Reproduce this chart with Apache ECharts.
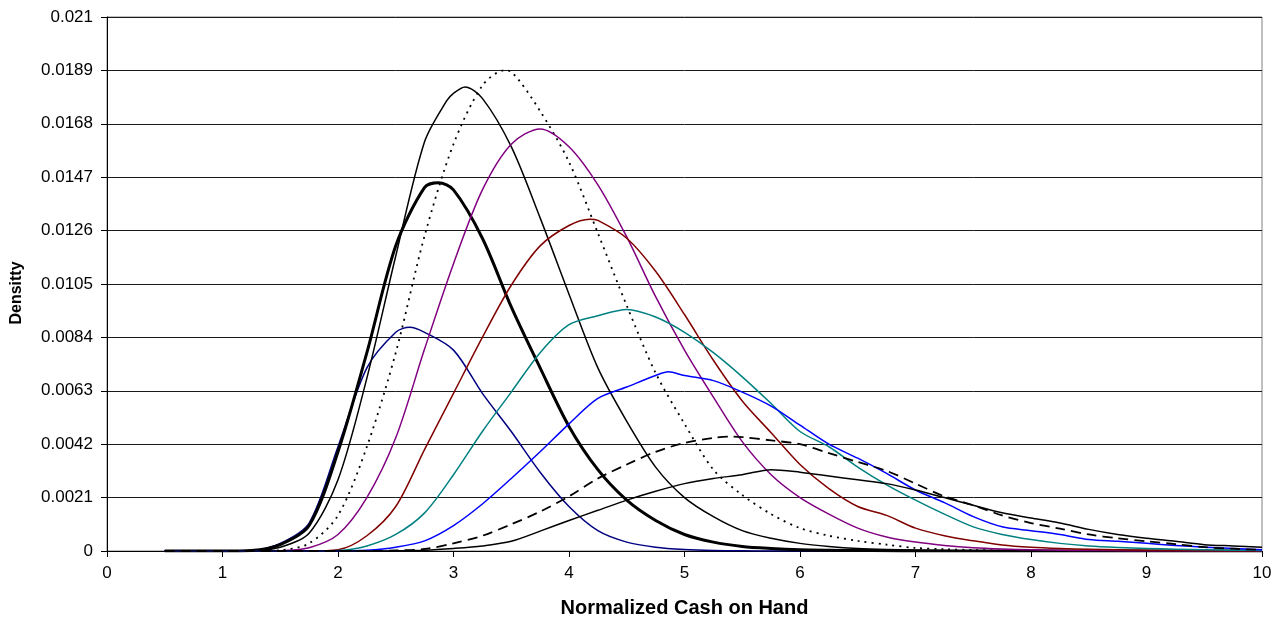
<!DOCTYPE html>
<html>
<head>
<meta charset="utf-8">
<script src="https://cdn.jsdelivr.net/npm/echarts@6/dist/echarts.min.js"></script>
<style>
html,body{margin:0;padding:0;background:#fff;}
#chart{width:1284px;height:625px;}
</style>
</head>
<body>
<div id="chart"></div>
<script>
// x positions (Normalized Cash on Hand)
var xValues = [0.5,0.75,1,1.25,1.5,1.75,2,2.25,2.5,2.75,3,3.25,3.5,3.75,4,4.25,4.5,4.75,5,5.25,5.5,5.75,6,6.25,6.5,6.75,7,7.25,7.5,7.75,8,8.25,8.5,8.75,9,9.25,9.5,9.75,10];

// Densities
var navy = [0,0,0,0.00002,0.0003,0.0011,0.0041,0.0072,0.0086,0.0086,0.0079,0.0062,0.0047,0.0031,0.00175,0.0008,0.00035,0.00015,0.00006,0.00002,0.00001,0,0,0,0,0,0,0,0,0,0,0,0,0,0,0,0,0,0];
var thickBlack = [0,0,0,0.00002,0.00025,0.001,0.0039,0.0078,0.012,0.0143,0.0142,0.0123,0.0096,0.0072,0.0049,0.0032,0.002,0.0012,0.00065,0.00035,0.00018,0.0001,0.00005,0.00003,0.00002,0.00001,0,0,0,0,0,0,0,0,0,0,0,0,0];
var thinBlack = [0,0,0,0.00001,0.00015,0.0007,0.0028,0.0068,0.0116,0.0161,0.018,0.0178,0.0159,0.0131,0.0101,0.0072,0.0051,0.0033,0.0021,0.00135,0.0008,0.0005,0.0003,0.00018,0.0001,0.00006,0.00004,0.00002,0.00001,0,0,0,0,0,0,0,0,0,0];
var dottedBlack = [0,0,0,0,0.00003,0.0003,0.0014,0.0041,0.0078,0.0124,0.016,0.0183,0.01885,0.0173,0.0153,0.0125,0.00965,0.007,0.005,0.0032,0.0022,0.00145,0.0009,0.0006,0.0004,0.00025,0.00012,0.00007,0.00004,0.00002,0.00001,0,0,0,0,0,0,0,0];
var purple = [0,0,0,0,0.00001,0.00013,0.00065,0.0021,0.00445,0.00795,0.0113,0.0142,0.016,0.0166,0.0159,0.0144,0.01235,0.01,0.0079,0.00605,0.0043,0.003,0.0021,0.00145,0.0009,0.00055,0.00035,0.00022,0.00013,0.00008,0.00005,0.00003,0.00002,0.00001,0,0,0,0,0];
var darkRed = [0,0,0,0,0,0,0.00005,0.0006,0.00175,0.004,0.0062,0.0084,0.01045,0.012,0.0128,0.013,0.0123,0.011,0.0093,0.0075,0.0059,0.00465,0.0034,0.00245,0.00175,0.0014,0.0009,0.0006,0.0004,0.00024,0.00015,0.0001,0.00007,0.00005,0.00003,0.00002,0.00001,0,0];
var teal = [0,0,0,0,0,0,0.00002,0.0002,0.00065,0.0015,0.003,0.0047,0.00625,0.0078,0.0089,0.00925,0.0095,0.0092,0.0086,0.0078,0.00685,0.0058,0.0047,0.0041,0.0033,0.0026,0.002,0.00145,0.00095,0.00065,0.00045,0.0003,0.0002,0.00014,0.0001,0.00007,0.00005,0.00003,0.00002];
var blue = [0,0,0,0,0,0,0,0.00003,0.00015,0.0004,0.001,0.00185,0.00285,0.0039,0.005,0.006,0.00645,0.0069,0.0069,0.0067,0.00625,0.0057,0.00495,0.0042,0.00365,0.00305,0.0024,0.0019,0.00135,0.00095,0.0008,0.00065,0.00045,0.00038,0.0003,0.00022,0.00015,0.0001,0.00005];
var dashedBlack = [0,0,0,0,0,0,0,0,0.00002,0.00008,0.0003,0.0006,0.00105,0.00155,0.00215,0.00285,0.0034,0.0039,0.00425,0.00445,0.00448,0.00435,0.0042,0.00385,0.0035,0.00315,0.00265,0.00215,0.0018,0.0014,0.0011,0.00088,0.00065,0.0005,0.00038,0.00027,0.00015,0.00009,0.00004];
var lowBlack = [0,0,0,0,0,0,0,0,0.00001,0.00003,0.0001,0.0002,0.00038,0.00078,0.0012,0.0016,0.002,0.00235,0.00265,0.00285,0.003,0.0032,0.0031,0.00295,0.0028,0.00265,0.0024,0.0021,0.0018,0.0015,0.0013,0.0011,0.00085,0.00065,0.0005,0.00038,0.00025,0.0002,0.00015];

// extra points [x, density] (peaks and bends)
var navyExtra = [[2.62, 0.0088]];
var thickBlackExtra = [[2.87, 0.01448]];
var thinBlackExtra = [[2.94, 0.0177], [3.1, 0.01825]];
var dottedBlackExtra = [[3.44, 0.0189]];
var darkRedExtra = [[4.18, 0.01305]];
var blueExtra = [[4.86, 0.00705]];
var dashedBlackExtra = [[5.4, 0.0045]];

// axis tick labels
var xTickLabels = ['0','1','2','3','4','5','6','7','8','9','10'];
var yTickLabels = ['0','0.0021','0.0042','0.0063','0.0084','0.0105','0.0126','0.0147','0.0168','0.0189','0.021'];

function pairs(ys, extra){
  var d = xValues.map(function(x,i){ return [x, ys[i]]; });
  if (extra) {
    extra.forEach(function(p){ d.push(p.slice()); });
    d.sort(function(a,b){ return a[0]-b[0]; });
  }
  return d;
}

var FONT = "'Liberation Sans', Arial, sans-serif";

function line(name, data, extra, color, width, type){
  return {
    name: name, type: 'line', data: pairs(data, extra), showSymbol: false, symbol: 'none',
    smooth: 0.3, animation: false, silent: true,
    lineStyle: {color: color, width: width, type: type || 'solid', cap: 'butt', join: 'round'}
  };
}

var chart = echarts.init(document.getElementById('chart'), null, {renderer: 'canvas'});
chart.setOption({
  backgroundColor: '#ffffff',
  animation: false,
  grid: {left: 107, right: 22, top: 17, bottom: 74, show: true, borderColor: '#808080', borderWidth: 1, backgroundColor: 'transparent'},
  xAxis: {
    type: 'value', min: 0, max: 10, interval: 1,
    name: 'Normalized Cash on Hand', nameLocation: 'middle', nameGap: 47,
    nameTextStyle: {fontFamily: FONT, fontSize: 20, fontWeight: 'bold', color: '#000'},
    axisLine: {show: true, onZero: false, lineStyle: {color: '#000', width: 1}},
    axisTick: {show: true, length: 6, inside: false, lineStyle: {color: '#000'}},
    axisLabel: {fontFamily: FONT, fontSize: 17, color: '#000', margin: 14,
      formatter: function(v){ return xTickLabels[Math.round(v)]; }},
    splitLine: {show: false}
  },
  yAxis: {
    type: 'value', min: 0, max: 0.021, interval: 0.0021,
    name: 'Densitty', nameLocation: 'middle', nameGap: 82, nameRotate: 90,
    nameTextStyle: {fontFamily: FONT, fontSize: 16, fontWeight: 'bold', color: '#000', padding: [0, 18, 0, 0]},
    axisLine: {show: true, lineStyle: {color: '#000', width: 1}},
    axisTick: {show: true, length: 6, inside: false, lineStyle: {color: '#000'}},
    axisLabel: {fontFamily: FONT, fontSize: 17, color: '#000', margin: 14,
      formatter: function(v){ return yTickLabels[Math.round(v / 0.0021)]; }},
    splitLine: {show: true, lineStyle: {color: '#1a1a1a', width: 1}}
  },
  series: [
    line('navy', navy, navyExtra, '#000080', 1.5),
    line('thick', thickBlack, thickBlackExtra, '#000000', 3),
    line('thin', thinBlack, thinBlackExtra, '#000000', 1.5),
    line('dotted', dottedBlack, dottedBlackExtra, '#000000', 1.8, [2, 5]),
    line('purple', purple, null, '#800080', 1.5),
    line('darkred', darkRed, darkRedExtra, '#800000', 1.5),
    line('teal', teal, null, '#008080', 1.5),
    line('blue', blue, blueExtra, '#0000FF', 1.5),
    line('dashed', dashedBlack, dashedBlackExtra, '#000000', 1.8, [10, 6]),
    line('low', lowBlack, null, '#000000', 1.5)
  ]
});
</script>
</body>
</html>
